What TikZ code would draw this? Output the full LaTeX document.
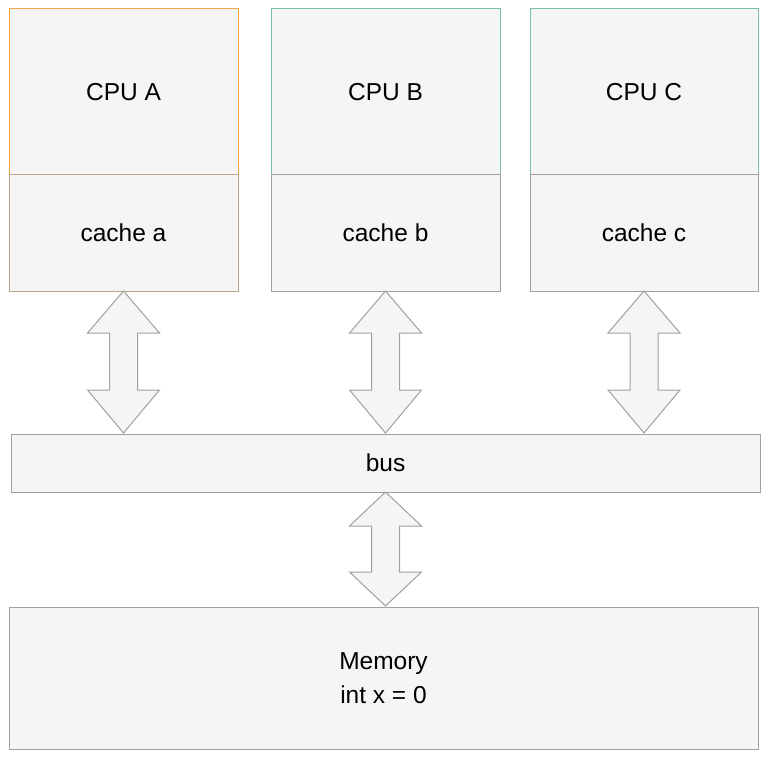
\documentclass[tikz,border=0pt]{standalone}
\usepackage{fontspec}
\setmainfont{Liberation Sans}
\definecolor{boxfill}{HTML}{F5F5F5}
\definecolor{boxline}{HTML}{A0A0A0}
\definecolor{orangeline}{HTML}{F5A542}
\definecolor{tealline}{HTML}{7CBFAE}
\definecolor{brownline}{HTML}{B9A58C}
\tikzset{
  box/.style={draw=boxline, fill=boxfill, line width=1pt, rectangle, inner sep=0pt, outer sep=0pt,
    font=\fontsize{24.5}{29}\selectfont, text=black},
  bigarrow/.style={draw=boxline, fill=boxfill, line width=1pt, line join=miter},
}
\begin{document}
\begin{tikzpicture}[x=1pt,y=-1pt]
\useasboundingbox (0,0) rectangle (770,759);
% CPUs
\node[box, draw=orangeline, minimum width=229, minimum height=166] (cpuA) at (123.5,92) {CPU A};
\node[box, draw=brownline, minimum width=229, minimum height=116] (cacheA) at (123.5,233) {cache a};
\node[box, draw=tealline, minimum width=229, minimum height=166] (cpuB) at (385.5,92) {CPU B};
\node[box, minimum width=229, minimum height=116] (cacheB) at (385.5,233) {cache b};
\node[box, draw=tealline, minimum width=228, minimum height=166] (cpuC) at (644,92) {CPU C};
\node[box, minimum width=228, minimum height=116] (cacheC) at (644,233) {cache c};
% bus
\node[box, minimum width=749, minimum height=58] (bus) at (385.5,463) {bus};
% memory
\node[box, minimum width=749, minimum height=142, align=center,
  font=\fontsize{24.5}{34}\selectfont] (mem) at (383.5,678)
  {Memory\\int x = 0};
% double arrows cache -> bus
\foreach \c in {cacheA,cacheB,cacheC}{
  \draw[bigarrow] (\c.south) -- ++(36,42) -- ++(-22,0) -- ++(0,57) -- ++(22,0)
    -- ++(-36,43) -- ++(-36,-43) -- ++(22,0) -- ++(0,-57) -- ++(-22,0) -- cycle;
}
% bus -> memory
\draw[bigarrow] (bus.south) -- ++(36,34) -- ++(-22,0) -- ++(0,46) -- ++(22,0)
  -- ++(-36,34) -- ++(-36,-34) -- ++(22,0) -- ++(0,-46) -- ++(-22,0) -- cycle;
\end{tikzpicture}
\end{document}
